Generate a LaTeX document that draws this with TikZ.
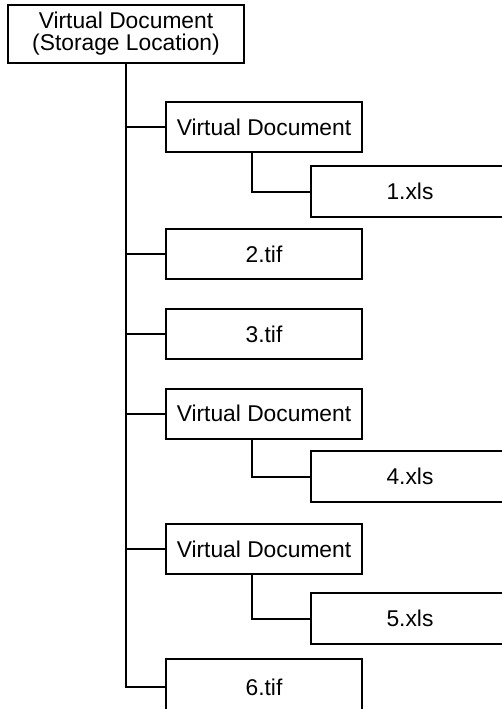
\documentclass[tikz,border=0pt]{standalone}
\usepackage{fontspec}
\setmainfont{Liberation Sans}

\begin{document}
\begin{tikzpicture}
	[
	 x = 0.5pt,
	 y = -0.5pt,
	 line width = 1pt,
	 every node/.style = {shape=rectangle,
		                  draw,
		                  align=center,
		                  font=\fontsize{11.4}{11}\selectfont,
		                  inner sep = 0pt
	                     },
	 top/.style  = {minimum width = 118pt, minimum height = 29pt},
	 doc/.style  = {minimum width = 98pt, minimum height = 25pt},
	 file/.style = {minimum width = 99pt, minimum height = 25.5pt}
	]
	\useasboundingbox [clip] (0,0) rectangle (502,709);

	\newcommand{\VD}{Virtual Document}

	\node [top]  (R)  at (126,34)    {\VD\\(Storage Location)};
	\node [doc]  (B1) at (264,127)   {\VD};
	\node [file] (C1) at (410,191.5) {1.xls};
	\node [doc]  (B2) at (264,254)   {2.tif};
	\node [doc]  (B3) at (264,334)   {3.tif};
	\node [doc]  (B4) at (264,413.5) {\VD};
	\node [file] (C4) at (410,476.5) {4.xls};
	\node [doc]  (B5) at (264,549)   {\VD};
	\node [file] (C5) at (410,618.5) {5.xls};
	\node [doc, minimum height = 28pt] (B6) at (264,687) {6.tif};

	% trunk and branches
	\draw (R.south) |- (B6.west);
	\foreach \b in {B1,B2,B3,B4,B5}
	  \draw (R.south |- \b.west) -- (\b.west);

	% sub documents
	\draw ([xshift=-6pt]B1.south) |- (C1.west);
	\draw ([xshift=-6pt]B4.south) |- (C4.west);
	\draw ([xshift=-6pt]B5.south) |- (C5.west);
\end{tikzpicture}
\end{document}
